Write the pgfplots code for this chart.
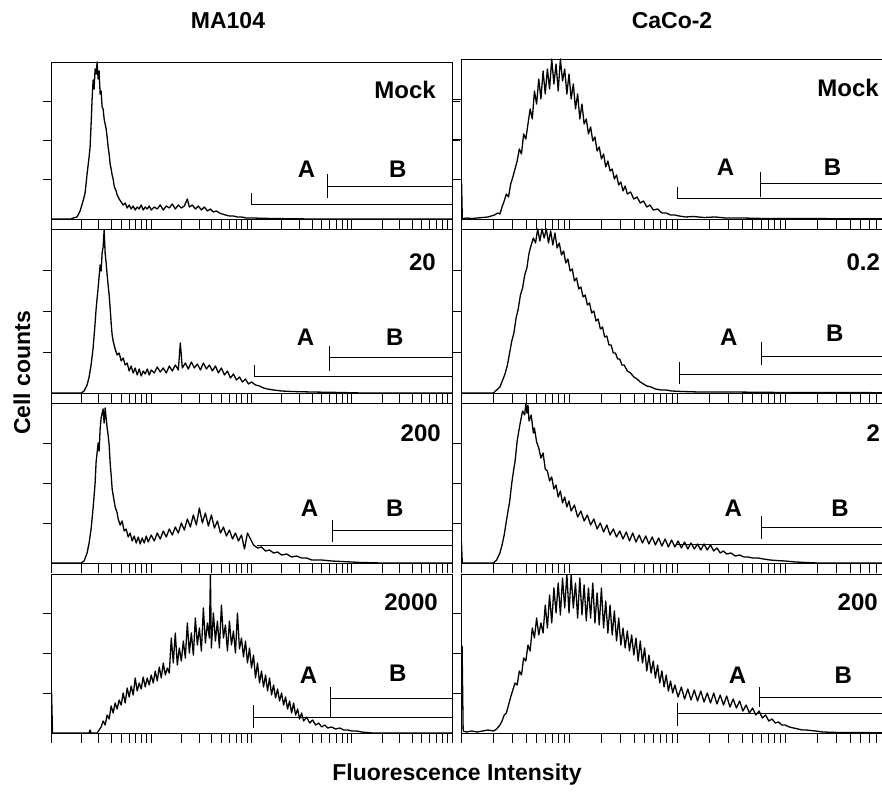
\documentclass[border=0pt]{standalone}
\usepackage{fontspec}
\setmainfont{Liberation Sans}
\usepackage{pgfplots}
\pgfplotsset{compat=1.18}
\newcommand{\lbl}{\fontsize{24}{28}\selectfont\bfseries}
\newcommand{\ttl}{\fontsize{23}{27}\selectfont\bfseries}
\pgfplotsset{
  panel/.style={scale only axis, anchor=south west, xmin=0, ymin=0,
    axis line style={line width=0.9pt},
    tick align=outside, xtick pos=left,
    xticklabels={}, yticklabels={},
    xtick style={line width=0.7pt, black, /pgfplots/major tick length=10pt},
    ytick style={line width=0.8pt, black, /pgfplots/major tick length=8pt},
    clip mode=individual},
  hist/.style={black, line width=1.3pt, line join=round},
  gate/.style={black, line width=0.7pt, forget plot},
  lpan/.style={panel, xmax=4, width=401pt,
    xtick={0,0.301,0.477,0.602,0.699,0.778,0.845,0.903,0.954,1,1.301,1.477,1.602,1.699,1.778,1.845,1.903,1.954,2,2.301,2.477,2.602,2.699,2.778,2.845,2.903,2.954,3,3.301,3.477,3.602,3.699,3.778,3.845,3.903,3.954,4}},
  rpan/.style={panel, xmax=3.898, width=421pt,
    axis x line=box, axis y line=left, axis line style={-, line width=0.9pt},
    tick align=outside, xtick pos=left, ytick pos=left,
    xtick={0,0.301,0.477,0.602,0.699,0.778,0.845,0.903,0.954,1,1.301,1.477,1.602,1.699,1.778,1.845,1.903,1.954,2,2.301,2.477,2.602,2.699,2.778,2.845,2.903,2.954,3,3.301,3.477,3.602,3.699,3.778,3.845}},
}
\begin{document}
\begin{tikzpicture}
\useasboundingbox (0,0) rectangle (882pt,793pt);
\node[font=\ttl] at (228pt,772pt) {MA104};
\node[font=\ttl] at (672pt,772pt) {CaCo-2};
\node[font=\ttl, rotate=90] at (22pt,420pt) {Cell counts};
\node[font=\ttl] at (457pt,18pt) {Fluorescence Intensity};

% ---------- Left row 1: MA104 Mock ----------
\begin{axis}[lpan, at={(51pt,574pt)}, height=157pt, ymax=157, ytick={39.25,78.5,117.75}]
\addplot[hist] coordinates {(0,0)(0.2,0)(0.22,1)(0.26,2)(0.29,8)(0.32,18)(0.34,26)(0.36,45)(0.38,62)(0.39,72)(0.40,95)(0.41,120)(0.42,139)(0.43,130)(0.44,150)(0.45,145)(0.46,157)(0.47,140)(0.48,148)(0.49,125)(0.50,128)(0.51,112)(0.52,110)(0.53,100)(0.54,95)(0.55,90)(0.56,82)(0.57,72)(0.58,65)(0.59,55)(0.60,50)(0.61,44)(0.62,40)(0.63,33)(0.64,30)(0.65,28)(0.66,24)(0.68,20)(0.70,17)(0.72,14)(0.74,16)(0.76,11)(0.78,14)(0.80,10)(0.82,13)(0.84,9)(0.86,12)(0.88,10)(0.90,14)(0.92,9)(0.94,12)(0.96,10)(0.98,13)(1.00,9)(1.03,12)(1.06,10)(1.09,14)(1.12,9)(1.15,13)(1.18,11)(1.21,15)(1.24,10)(1.27,14)(1.30,11)(1.33,13)(1.36,20)(1.38,12)(1.41,14)(1.44,10)(1.47,13)(1.50,9)(1.53,12)(1.56,8)(1.59,10)(1.62,7)(1.65,8)(1.68,6)(1.71,5)(1.74,4)(1.78,3)(1.82,3)(1.86,2)(1.90,2)(1.95,1)(2.00,1)(2.2,0.5)(2.6,0)(4,0)};
\addplot[gate] coordinates {(2.0,26)(2.0,15)(4,15)};
\addplot[gate] coordinates {(2.76,45)(2.76,21)};
\addplot[gate] coordinates {(2.76,33)(4,33)};
\node[font=\lbl, inner sep=0] at (axis cs:2.55,50) {A};
\node[font=\lbl, inner sep=0] at (axis cs:3.46,50) {B};
\node[font=\lbl, inner sep=0, anchor=east] at (axis cs:3.84,129) {Mock};
\end{axis}

% ---------- Left row 2: MA104 20 ----------
\begin{axis}[lpan, at={(51pt,400pt)}, height=164pt, ymax=164, ytick={41,82,123}]
\addplot[hist] coordinates {(0,0)(0.30,0)(0.33,2)(0.36,8)(0.38,16)(0.40,28)(0.42,45)(0.44,70)(0.45,84)(0.47,105)(0.49,128)(0.50,122)(0.51,140)(0.52,146)(0.53,163)(0.54,140)(0.55,130)(0.56,118)(0.57,108)(0.58,98)(0.59,85)(0.60,70)(0.61,58)(0.62,52)(0.64,44)(0.66,38)(0.68,40)(0.70,32)(0.72,35)(0.74,28)(0.76,30)(0.78,22)(0.80,27)(0.82,20)(0.84,25)(0.86,18)(0.88,24)(0.90,17)(0.92,22)(0.94,19)(0.96,24)(0.98,18)(1.00,23)(1.03,20)(1.06,26)(1.09,21)(1.12,25)(1.15,20)(1.18,27)(1.21,22)(1.24,28)(1.27,23)(1.29,50)(1.31,25)(1.34,30)(1.37,24)(1.40,31)(1.43,25)(1.46,29)(1.49,23)(1.52,30)(1.55,24)(1.58,28)(1.61,22)(1.64,27)(1.67,20)(1.70,25)(1.73,18)(1.76,22)(1.79,15)(1.82,19)(1.85,13)(1.88,16)(1.91,11)(1.94,14)(1.97,9)(2.00,11)(2.04,8)(2.08,7)(2.12,5)(2.16,4)(2.22,3)(2.30,2)(2.40,1.5)(2.6,1)(2.9,0.5)(3.1,0)(4,0)};
\addplot[gate] coordinates {(2.03,28)(2.03,17)(4,17)};
\addplot[gate] coordinates {(2.78,47)(2.78,22)};
\addplot[gate] coordinates {(2.78,36)(4,36)};
\node[font=\lbl, inner sep=0] at (axis cs:2.54,56) {A};
\node[font=\lbl, inner sep=0] at (axis cs:3.43,56) {B};
\node[font=\lbl, inner sep=0, anchor=east] at (axis cs:3.84,131) {20};
\end{axis}

% ---------- Left row 3: MA104 200 ----------
\begin{axis}[lpan, at={(51pt,230pt)}, height=160pt, ymax=160, ytick={40,80,120}]
\addplot[hist] coordinates {(0,0)(0.30,0)(0.33,2)(0.36,10)(0.38,20)(0.40,34)(0.42,55)(0.44,80)(0.45,101)(0.47,120)(0.48,112)(0.49,134)(0.50,145)(0.51,150)(0.52,154)(0.53,140)(0.54,155)(0.55,145)(0.56,135)(0.57,128)(0.58,118)(0.59,100)(0.60,88)(0.61,74)(0.62,68)(0.64,56)(0.66,50)(0.67,44)(0.69,38)(0.71,42)(0.73,32)(0.75,34)(0.77,26)(0.79,30)(0.81,22)(0.83,27)(0.85,20)(0.87,26)(0.89,19)(0.91,25)(0.93,20)(0.95,27)(0.97,21)(1.00,28)(1.03,22)(1.06,30)(1.09,24)(1.12,32)(1.15,26)(1.18,34)(1.21,28)(1.24,36)(1.27,30)(1.30,40)(1.33,33)(1.36,44)(1.39,36)(1.42,48)(1.45,38)(1.48,55)(1.51,40)(1.54,50)(1.57,37)(1.60,48)(1.63,35)(1.66,42)(1.69,30)(1.72,36)(1.75,27)(1.78,33)(1.81,24)(1.84,30)(1.87,22)(1.90,28)(1.93,14)(1.96,30)(1.99,24)(2.02,18)(2.06,15)(2.10,16)(2.14,12)(2.18,13)(2.22,10)(2.26,11)(2.30,8)(2.35,9)(2.40,6)(2.45,7)(2.50,5)(2.55,5)(2.60,3)(2.70,3)(2.80,2)(2.9,1.5)(3.0,1)(3.1,0.5)(3.3,0)(4,0)};
\addplot[gate] coordinates {(2.05,18)(4,18)};
\addplot[gate] coordinates {(2.81,43)(2.81,21)};
\addplot[gate] coordinates {(2.81,33)(4,33)};
\node[font=\lbl, inner sep=0] at (axis cs:2.58,55) {A};
\node[font=\lbl, inner sep=0] at (axis cs:3.43,55) {B};
\node[font=\lbl, inner sep=0, anchor=east] at (axis cs:3.89,130) {200};
\end{axis}

% ---------- Left row 4: MA104 2000 ----------
\begin{axis}[lpan, at={(51pt,60pt)}, height=159pt, ymax=159, ytick={39.75,79.5,119.25}]
\addplot[hist] coordinates {(0,0)(0.005,43)(0.015,0)(0.38,0)(0.39,3)(0.40,0)(0.46,0)(0.48,3)(0.50,6)(0.52,12)(0.54,8)(0.56,18)(0.58,14)(0.60,27)(0.62,20)(0.64,30)(0.66,24)(0.68,33)(0.70,28)(0.72,40)(0.74,30)(0.76,45)(0.78,36)(0.80,47)(0.82,38)(0.84,55)(0.86,42)(0.88,50)(0.90,44)(0.92,56)(0.94,46)(0.96,55)(0.98,48)(1.00,58)(1.02,50)(1.04,62)(1.06,52)(1.08,66)(1.10,55)(1.12,70)(1.14,58)(1.16,65)(1.18,60)(1.20,95)(1.22,70)(1.24,100)(1.26,68)(1.28,85)(1.30,72)(1.32,92)(1.34,75)(1.36,110)(1.38,80)(1.40,100)(1.42,78)(1.44,115)(1.46,88)(1.48,105)(1.50,82)(1.52,125)(1.54,90)(1.56,110)(1.58,95)(1.59,159)(1.60,85)(1.62,120)(1.64,92)(1.66,112)(1.68,85)(1.70,128)(1.72,95)(1.74,108)(1.76,82)(1.78,112)(1.80,88)(1.82,102)(1.84,80)(1.86,120)(1.88,84)(1.90,95)(1.92,76)(1.94,92)(1.96,70)(1.98,85)(2.00,65)(2.02,78)(2.04,55)(2.06,70)(2.08,50)(2.10,62)(2.12,46)(2.14,58)(2.16,42)(2.18,55)(2.20,38)(2.22,48)(2.24,35)(2.26,44)(2.28,32)(2.30,40)(2.32,28)(2.34,36)(2.36,24)(2.38,32)(2.40,20)(2.42,30)(2.44,18)(2.46,24)(2.48,14)(2.50,20)(2.52,12)(2.55,16)(2.58,10)(2.61,13)(2.64,8)(2.67,10)(2.70,6)(2.73,8)(2.76,5)(2.80,6)(2.84,4)(2.88,5)(2.92,3)(2.96,3)(3.00,2)(3.05,2)(3.10,1)(3.2,0)(4,0)};
\addplot[gate] coordinates {(2.02,28)(2.02,5)};
\addplot[gate] coordinates {(2.02,16)(4,16)};
\addplot[gate] coordinates {(2.79,46)(2.79,16)};
\addplot[gate] coordinates {(2.79,35)(4,35)};
\node[font=\lbl, inner sep=0] at (axis cs:2.57,58) {A};
\node[font=\lbl, inner sep=0] at (axis cs:3.46,60) {B};
\node[font=\lbl, inner sep=0, anchor=east] at (axis cs:3.86,131) {2000};
\end{axis}

% ---------- Right row 1: CaCo-2 Mock ----------
\begin{axis}[rpan, at={(461pt,574pt)}, height=160pt, ymax=160, ytick={40,80,120}]
\addplot[hist] coordinates {(0,0)(0.005,37)(0.012,0)(0.05,1)(0.10,0.5)(0.15,1)(0.20,1.5)(0.25,2)(0.28,3)(0.31,4)(0.34,6)(0.36,5)(0.38,12)(0.40,18)(0.42,25)(0.44,22)(0.46,35)(0.48,42)(0.50,50)(0.52,58)(0.54,70)(0.56,65)(0.58,85)(0.60,80)(0.62,95)(0.64,110)(0.66,100)(0.68,128)(0.70,115)(0.72,140)(0.74,120)(0.76,148)(0.78,125)(0.80,150)(0.82,130)(0.84,160)(0.86,135)(0.88,155)(0.90,128)(0.92,160)(0.94,138)(0.96,150)(0.98,125)(1.00,145)(1.02,120)(1.04,135)(1.06,110)(1.08,125)(1.10,100)(1.12,115)(1.14,95)(1.16,100)(1.18,85)(1.20,92)(1.22,78)(1.24,82)(1.26,68)(1.28,72)(1.30,60)(1.32,65)(1.34,52)(1.36,58)(1.38,48)(1.40,50)(1.42,40)(1.44,44)(1.46,34)(1.48,37)(1.50,28)(1.52,33)(1.54,25)(1.57,27)(1.60,20)(1.63,22)(1.66,16)(1.69,18)(1.72,12)(1.75,14)(1.78,9)(1.82,10)(1.86,6)(1.90,6)(1.94,4)(1.98,4)(2.02,3)(2.08,2)(2.15,2.5)(2.25,1.5)(2.35,2)(2.45,1)(2.6,1)(2.8,0.5)(3.0,0.5)(3.5,0.3)(3.898,0.3)};
\addplot[gate] coordinates {(2.0,32)(2.0,21)(3.898,21)};
\addplot[gate] coordinates {(2.77,47)(2.77,22)};
\addplot[gate] coordinates {(2.77,36)(3.898,36)};
\node[font=\lbl, inner sep=0] at (axis cs:2.45,52) {A};
\node[font=\lbl, inner sep=0] at (axis cs:3.44,52) {B};
\node[font=\lbl, inner sep=0, anchor=east] at (axis cs:3.87,131) {Mock};
\end{axis}

% ---------- Right row 2: CaCo-2 0.2 ----------
\begin{axis}[rpan, at={(461pt,400pt)}, height=164pt, ymax=164, ytick={41,82,123}]
\addplot[hist] coordinates {(0,0)(0.30,0)(0.33,3)(0.36,6)(0.39,14)(0.41,20)(0.43,28)(0.45,40)(0.47,52)(0.49,60)(0.51,75)(0.53,84)(0.55,98)(0.57,105)(0.59,118)(0.61,125)(0.63,140)(0.65,148)(0.67,155)(0.69,150)(0.71,164)(0.73,152)(0.75,164)(0.77,155)(0.79,164)(0.81,150)(0.83,162)(0.85,148)(0.87,160)(0.89,145)(0.91,150)(0.93,138)(0.95,142)(0.97,130)(0.99,134)(1.01,122)(1.03,124)(1.05,112)(1.07,115)(1.09,104)(1.11,106)(1.13,96)(1.15,98)(1.17,88)(1.19,90)(1.21,80)(1.23,82)(1.25,72)(1.27,74)(1.29,64)(1.31,66)(1.33,56)(1.35,57)(1.37,48)(1.39,48)(1.41,40)(1.43,40)(1.45,34)(1.47,34)(1.49,28)(1.51,28)(1.54,22)(1.57,20)(1.60,16)(1.63,14)(1.66,11)(1.69,9)(1.72,7)(1.76,6)(1.80,4)(1.85,3)(1.90,3)(1.95,2)(2.05,1.5)(2.2,1)(2.5,1)(3.0,0.5)(3.5,0.5)(3.898,0.3)};
\addplot[gate] coordinates {(2.02,31)(2.02,9)};
\addplot[gate] coordinates {(2.02,19)(3.898,19)};
\addplot[gate] coordinates {(2.78,51)(2.78,28)};
\addplot[gate] coordinates {(2.78,37)(3.898,37)};
\node[font=\lbl, inner sep=0] at (axis cs:2.48,56) {A};
\node[font=\lbl, inner sep=0] at (axis cs:3.46,60) {B};
\node[font=\lbl, inner sep=0, anchor=east] at (axis cs:3.88,131) {0.2};
\end{axis}

% ---------- Right row 3: CaCo-2 2 ----------
\begin{axis}[rpan, at={(461pt,230pt)}, height=160pt, ymax=160, ytick={40,80,120}]
\addplot[hist] coordinates {(0,0)(0.004,21)(0.012,0)(0.30,0)(0.33,3)(0.36,10)(0.38,18)(0.40,28)(0.42,42)(0.44,55)(0.45,61)(0.47,80)(0.49,95)(0.50,101)(0.52,122)(0.54,135)(0.55,141)(0.57,152)(0.59,148)(0.60,160)(0.61,150)(0.62,158)(0.63,142)(0.65,148)(0.67,130)(0.68,135)(0.70,121)(0.72,115)(0.74,105)(0.76,110)(0.78,94)(0.80,92)(0.82,82)(0.84,86)(0.86,74)(0.88,78)(0.90,66)(0.92,72)(0.94,60)(0.96,66)(0.98,56)(1.00,62)(1.02,52)(1.05,58)(1.08,46)(1.11,52)(1.14,42)(1.17,48)(1.20,38)(1.23,44)(1.26,34)(1.29,40)(1.32,31)(1.35,38)(1.38,28)(1.41,34)(1.44,26)(1.47,32)(1.50,24)(1.53,31)(1.56,22)(1.59,30)(1.62,21)(1.65,28)(1.68,20)(1.71,27)(1.74,19)(1.77,26)(1.80,18)(1.83,25)(1.86,17)(1.89,24)(1.92,16)(1.95,23)(1.98,16)(2.01,22)(2.04,15)(2.07,21)(2.10,14)(2.13,20)(2.16,14)(2.19,19)(2.22,13)(2.25,19)(2.28,13)(2.31,18)(2.34,12)(2.37,15)(2.40,10)(2.43,12)(2.46,9)(2.50,10)(2.54,7)(2.58,8)(2.62,6)(2.66,6)(2.70,5)(2.75,5)(2.80,4)(2.86,3)(2.92,2.5)(3.0,2)(3.1,1)(3.2,0.5)(3.3,0)(3.898,0)};
\addplot[gate] coordinates {(2.0,19)(3.898,19)};
\addplot[gate] coordinates {(2.78,47)(2.78,24)};
\addplot[gate] coordinates {(2.78,36)(3.898,36)};
\node[font=\lbl, inner sep=0] at (axis cs:2.52,55) {A};
\node[font=\lbl, inner sep=0] at (axis cs:3.51,55) {B};
\node[font=\lbl, inner sep=0, anchor=east] at (axis cs:3.88,130) {2};
\end{axis}

% ---------- Right row 4: CaCo-2 200 ----------
\begin{axis}[rpan, at={(461pt,60pt)}, height=159pt, ymax=159, ytick={39.75,79.5,119.25}]
\addplot[hist] coordinates {(0,0)(0.01,87)(0.02,2)(0.05,1)(0.10,2)(0.15,1)(0.20,2)(0.25,3)(0.30,2)(0.33,4)(0.36,8)(0.38,12)(0.40,18)(0.42,20)(0.44,28)(0.46,36)(0.48,43)(0.50,50)(0.52,48)(0.54,62)(0.56,58)(0.58,75)(0.60,72)(0.62,88)(0.64,82)(0.66,105)(0.68,95)(0.70,115)(0.72,98)(0.74,110)(0.76,100)(0.78,128)(0.80,105)(0.82,138)(0.84,110)(0.86,145)(0.88,120)(0.90,150)(0.92,118)(0.94,155)(0.96,125)(0.98,159)(1.00,120)(1.02,158)(1.04,125)(1.06,150)(1.08,115)(1.10,155)(1.12,118)(1.14,148)(1.16,112)(1.18,145)(1.20,115)(1.22,150)(1.24,110)(1.26,140)(1.28,108)(1.30,145)(1.32,105)(1.34,132)(1.36,100)(1.38,128)(1.40,98)(1.42,122)(1.44,92)(1.46,115)(1.48,88)(1.50,105)(1.52,85)(1.54,102)(1.56,82)(1.58,98)(1.60,78)(1.62,95)(1.64,72)(1.66,92)(1.68,70)(1.70,85)(1.72,62)(1.74,78)(1.76,60)(1.78,72)(1.80,55)(1.82,68)(1.84,50)(1.86,62)(1.88,46)(1.90,58)(1.92,42)(1.94,52)(1.96,40)(1.98,48)(2.01,36)(2.04,46)(2.07,34)(2.10,44)(2.13,33)(2.16,43)(2.19,32)(2.22,42)(2.25,31)(2.28,40)(2.31,30)(2.34,40)(2.37,29)(2.40,38)(2.43,28)(2.46,37)(2.49,26)(2.52,34)(2.55,25)(2.58,32)(2.61,22)(2.64,28)(2.67,20)(2.70,25)(2.73,18)(2.76,22)(2.79,15)(2.82,18)(2.85,12)(2.88,14)(2.91,10)(2.94,11)(2.97,8)(3.00,8)(3.04,6)(3.08,5)(3.12,4)(3.16,3)(3.2,3)(3.28,2)(3.35,1)(3.5,0.5)(3.898,0.3)};
\addplot[gate] coordinates {(2.0,30)(2.0,7)};
\addplot[gate] coordinates {(2.0,20)(3.898,20)};
\addplot[gate] coordinates {(2.76,46)(2.76,26)};
\addplot[gate] coordinates {(2.76,36)(3.898,36)};
\node[font=\lbl, inner sep=0] at (axis cs:2.56,58) {A};
\node[font=\lbl, inner sep=0] at (axis cs:3.54,58) {B};
\node[font=\lbl, inner sep=0, anchor=east] at (axis cs:3.86,131) {200};
\end{axis}
\end{tikzpicture}
\end{document}
